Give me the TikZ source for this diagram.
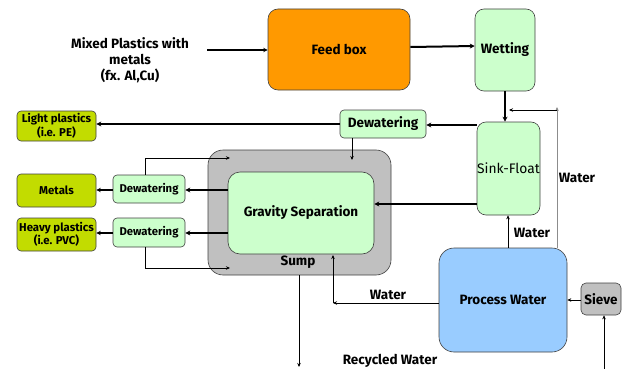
\documentclass[tikz,border=0pt]{standalone}
\usepackage{fontspec}
\setmainfont{Fira Sans}
\usetikzlibrary{arrows.meta,calc}
\definecolor{feedorange}{HTML}{FF9900}
\definecolor{palegreen}{HTML}{CCFFCC}
\definecolor{olivegreen}{HTML}{C2DC00}
\definecolor{sumpgray}{HTML}{C0C0C0}
\definecolor{waterblue}{HTML}{99CCFF}
\begin{document}
\begin{tikzpicture}[x=1pt,y=-1pt,
  box/.style={draw=black!75,line width=0.6pt,rounded corners=#1,inner sep=0pt,align=center,font=\bfseries\fontsize{13.5}{15}\selectfont},
  box/.default=9pt,
  feedbox/.style={box=10pt,fill=feedorange},
  greenbox/.style={box,fill=palegreen},
  smallgreen/.style={box=4pt,fill=palegreen,font=\bfseries\fontsize{11.3}{13}\selectfont},
  outbox/.style={box=4pt,fill=olivegreen,font=\bfseries\fontsize{11.4}{13.5}\selectfont},
  graybox/.style={box=15pt,fill=sumpgray},
  bluebox/.style={box=15pt,fill=waterblue},
  lbl/.style={inner sep=0pt,align=center,font=\bfseries\fontsize{13.5}{16}\selectfont},
  thick flow/.style={line width=2pt,-{Stealth[length=5pt,width=5pt]}},
  mid flow/.style={line width=1.4pt,-{Stealth[length=4.5pt,width=4.5pt]}},
  thin flow/.style={line width=0.7pt,-{Stealth[length=4pt,width=3.5pt]}},
  grayline/.style={line width=0.7pt,draw=black!45,-{Stealth[length=4pt,width=3.5pt]}}
]
\useasboundingbox (0,0) rectangle (629,369);
% nodes
\node[feedbox,minimum width=142pt,minimum height=81pt] (feed) at (339,49.5) {Feed box};
\node[greenbox,minimum width=60pt,minimum height=82pt] (wet) at (505,50) {Wetting};
\node[greenbox,minimum width=63pt,minimum height=93pt,font=\fontsize{13.8}{15}\selectfont] (sink) at (508.5,168.5) {Sink-Float};
\node[smallgreen,minimum width=86pt,minimum height=28pt,font=\bfseries\fontsize{13.5}{15}\selectfont] (dew1) at (383,124) {Dewatering};
\node[outbox,minimum width=79pt,minimum height=30pt] (light) at (56.5,126) {Light plastics\\(i.e. PE)};
\node[graybox,minimum width=183pt,minimum height=125pt] (sump) at (299.5,212.5) {};
\node[greenbox,box=12pt,fill=palegreen,minimum width=146pt,minimum height=82pt] (grav) at (301,213) {Gravity Separation};
\node[smallgreen,minimum width=72pt,minimum height=28pt] (dew2) at (149,189) {Dewatering};
\node[outbox,minimum width=79pt,minimum height=33pt] (metals) at (56.5,190.5) {Metals};
\node[smallgreen,minimum width=72pt,minimum height=29pt] (dew3) at (149,232.5) {Dewatering};
\node[outbox,minimum width=79pt,minimum height=33pt] (heavy) at (56.5,234.5) {Heavy plastics\\(i.e. PVC)};
\node[bluebox,minimum width=128pt,minimum height=104pt] (pw) at (503,300) {Process Water};
\node[box=5pt,fill=sumpgray,minimum width=40pt,minimum height=32pt] (sieve) at (601,299) {Sieve};
\node[lbl] (input) at (130,60) {Mixed Plastics with\\metals\\(fx. Al,Cu)};
% labels
\node[lbl] (sumplbl) at (298,262) {Sump};
\node[lbl] (w1) at (577,178) {Water};
\node[lbl] (w2) at (532,233) {Water};
\node[lbl] (w3) at (388,295) {Water};
\node[lbl] (rw) at (390,361) {Recycled Water};
% coordinates
\coordinate (inA) at (207,50);
\coordinate (loopTop) at (557,107);
\coordinate (loopR) at (557,110);
\coordinate (loopL) at (509,110);
\coordinate (pwL) at (333,303);
\coordinate (pwUp) at (333,255);
\coordinate (sumpOut) at (299,367);
\coordinate (d2up) at (145,158);
\coordinate (d2end) at (230,158);
\coordinate (d3dn) at (145,268);
\coordinate (d3end) at (230,268);
\coordinate (d1dn) at (352,160);
\coordinate (sieveIn) at (604,369);
% connectors
\draw[mid flow] (inA) -- (feed.west |- inA);
\draw[thick flow] (feed.east |- 0,47) -- (wet.west |- 0,46);
\draw[thick flow] (wet.south) -- (wet.south |- sink.north);
\draw[grayline] (pw.north -| loopTop) -- (loopTop);
\draw[thin flow] (loopR) -- (loopL);
\draw[thick flow] (sink.west |- 0,125) -- (dew1.east |- 0,125);
\draw[thick flow] (dew1.west) -- (light.east |- dew1.west);
\draw[thin flow] (dew1.south -| d1dn) -- (d1dn);
\draw[thick flow] (sink.west |- 0,204) -- (grav.east |- 0,204);
\draw[thick flow] (grav.west |- 0,190) -- (dew2.east |- 0,190);
\draw[thick flow] (grav.west |- 0,233) -- (dew3.east |- 0,233);
\draw[mid flow] (dew2.west |- 0,190) -- (metals.east |- 0,190);
\draw[mid flow] (dew3.west |- 0,233) -- (heavy.east |- 0,233);
\draw[thin flow] (dew2.north -| d2up) -- (d2up) -- (d2end);
\draw[thin flow] (dew3.south -| d3dn) -- (d3dn) -- (d3end);
\draw[thin flow] (sump.south -| sumpOut) -- (sumpOut);
\draw[thin flow] (pw.west |- pwL) -- (pwL);
\draw[thin flow] (pwL) -- (pwUp);
\draw[thin flow] (pw.north -| 508,0) -- (sink.south -| 508,0);
\draw[thin flow] (sieve.west |- 0,300) -- (pw.east |- 0,300);
\draw[thin flow] (sieveIn) -- (sieve.south -| sieveIn);
\end{tikzpicture}
\end{document}
